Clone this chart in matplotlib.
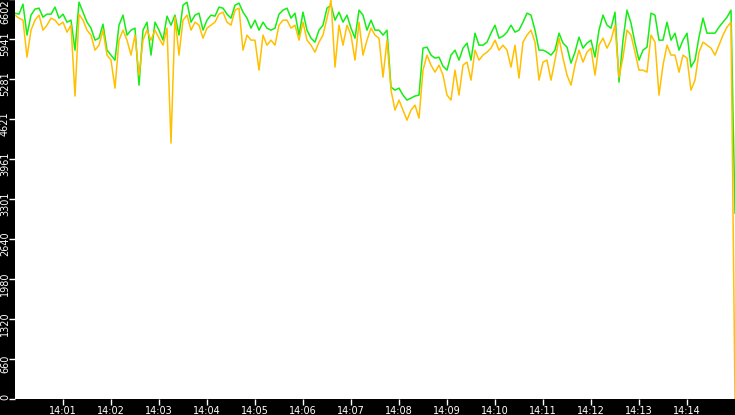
import matplotlib
matplotlib.use("Agg")
import matplotlib.pyplot as plt
import matplotlib.dates as mdates
import matplotlib.transforms as mtransforms
import pandas as pd

# ---- data ----
start_time = "2024-01-01 14:00:00"
sample_step = "5s"

orange_values = [
    6336, 6286, 6253, 5642, 6088, 6253, 6336, 6088, 6170, 6286,
    6253, 6170, 6220, 6055, 6170, 5000, 6352, 6253, 6088, 6006,
    5758, 5840, 6088, 5676, 5593, 5131, 5923, 6088, 5923, 5676,
    6006, 5346, 5923, 6088, 5923, 6088, 5956, 5840, 6121, 4224,
    6302, 5676, 6253, 6336, 6088, 6220, 6170, 5956, 6121, 6170,
    6220, 6352, 6385, 6220, 6170, 6418, 6451, 5758, 6006, 5923,
    5923, 5428, 6006, 5840, 5923, 5840, 6170, 6253, 6253, 6121,
    6170, 5923, 6220, 5923, 5840, 5725, 5890, 6006, 6286, 6583,
    5478, 6170, 5840, 6170, 6006, 5593, 6220, 5676, 5923, 6121,
    6006, 5956, 5312, 5923, 5098, 4768, 4933, 4768, 4603, 4768,
    4850, 4636, 5428, 5676, 5510, 5395, 5510, 5346, 5016, 4933,
    5428, 5016, 5510, 5560, 5263, 5758, 5593, 5676, 5725, 5791,
    5923, 5758, 5840, 5758, 5478, 5840, 5296, 5890, 6006, 6088,
    5890, 5263, 5560, 5593, 5263, 5593, 5956, 5626, 5346, 5180,
    5510, 5758, 5560, 5725, 5791, 5346, 5840, 5956, 5791, 5923,
    6170, 5312, 5642, 6088, 6006, 5725, 5428, 5428, 5395, 6006,
    5890, 5016, 5510, 5840, 5676, 5676, 5395, 5676, 5626, 5098,
    5263, 5725, 5890, 5840, 5791, 5676, 5840, 6006, 6138, 6220,
    0,
]

green_values = [
    6368, 6352, 6517, 6006, 6336, 6435, 6451, 6302, 6352, 6352,
    6468, 6286, 6352, 6220, 6253, 5758, 6550, 6385, 6220, 6121,
    5923, 5956, 6187, 5758, 5676, 5593, 6170, 6336, 6006, 6088,
    6121, 5180, 6088, 6220, 5676, 6220, 6088, 5923, 6319, 6170,
    6336, 6006, 6500, 6550, 6220, 6336, 6368, 6088, 6253, 6336,
    6319, 6468, 6451, 6352, 6286, 6500, 6534, 6385, 6286, 6121,
    6253, 6088, 6220, 6121, 6088, 6121, 6352, 6418, 6451, 6286,
    6368, 6006, 6385, 6088, 5956, 5890, 6088, 6170, 6451, 6500,
    6253, 6385, 6220, 6336, 6121, 5956, 6418, 6336, 6088, 6253,
    6088, 6088, 6006, 6088, 5148, 5098, 5131, 5016, 4933, 4966,
    5000, 5016, 5791, 5808, 5676, 5626, 5642, 5494, 5428, 5676,
    5758, 5593, 5791, 5874, 5593, 6038, 5840, 5840, 5890, 6038,
    6170, 5956, 5989, 6055, 6170, 6055, 6088, 6220, 6368, 6336,
    6088, 5758, 5758, 5725, 5676, 5758, 6038, 5874, 5808, 5544,
    5725, 5972, 5791, 5874, 5923, 5642, 6088, 6336, 6170, 6121,
    6385, 5230, 5923, 6418, 6204, 5874, 5593, 5758, 5808, 6368,
    6336, 5923, 5923, 6220, 5923, 6038, 5758, 5923, 6038, 5478,
    5593, 5972, 6286, 6038, 6038, 6038, 6138, 6220, 6302, 6418,
    3068,
]

y_ticks = [0, 660, 1320, 1980, 2640, 3301, 3961, 4621, 5281, 5941, 6602]
y_tick_labels = ["0", "660", "1320", "1980", "2640", "3301", "3961",
                 "4621", "5281", "5941", "6602"]

times = pd.date_range(start_time, periods=len(orange_values), freq=sample_step)

# ---- figure ----
W, H, DPI = 735, 415, 100
fig = plt.figure(figsize=(W / DPI, H / DPI), dpi=DPI, facecolor="black")
ax = fig.add_axes([15 / W, 16 / H, 720 / W, 400 / H])
ax.set_facecolor("white")

ax.plot(times, green_values, color="#14EE14", lw=1.1)
ax.plot(times, orange_values, color="#FFC000", lw=1.1)

ax.set_xlim(times[0], times[-1])
ax.set_ylim(0, y_ticks[-1])

for s in ax.spines.values():
    s.set_visible(False)

ax.xaxis.set_major_locator(mdates.MinuteLocator(byminute=range(1, 15)))
ax.xaxis.set_major_formatter(mdates.DateFormatter("%H:%M"))
ax.tick_params(axis="x", colors="white", length=4, width=1, pad=0.8,
               labelsize=7.0, direction="out")

ax.set_yticks(y_ticks)
ax.set_yticklabels([])
ax.tick_params(axis="y", colors="white", length=4, width=1, direction="out")

# rotated y labels, shifted slightly below their ticks (clamped at the ends)
base = ax.get_yaxis_transform()
n = len(y_ticks)
for i, (v, lab) in enumerate(zip(y_ticks, y_tick_labels)):
    if i == n - 1:
        va, dy = "top", 0.0
    elif i == 0:
        va, dy = "center", 0.02
    else:
        va, dy = "center", -0.05
    off = mtransforms.ScaledTranslation(-0.10, dy, fig.dpi_scale_trans)
    ax.text(0, v, lab, transform=base + off, rotation=90, color="white",
            fontsize=7.0, ha="center", va=va)

fig.savefig("out.png", dpi=DPI, facecolor="black")
